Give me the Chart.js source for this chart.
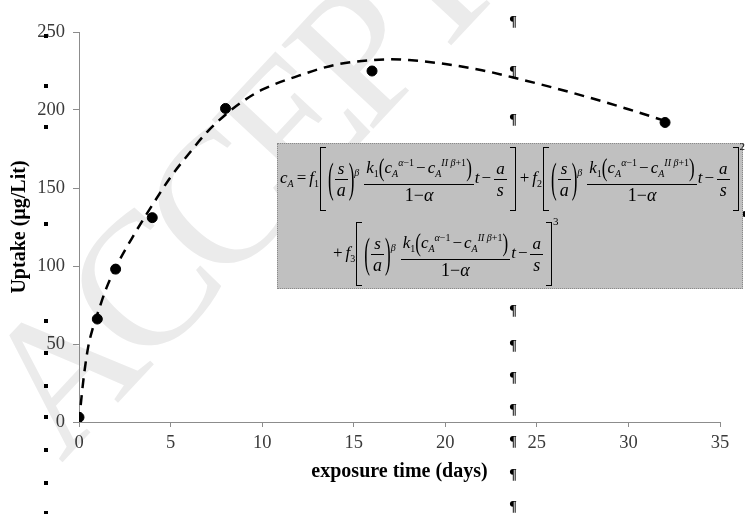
<!DOCTYPE html>
<html>
<head>
<meta charset="utf-8">
<script src="https://cdn.jsdelivr.net/npm/chart.js@4/dist/chart.umd.min.js"></script>
<style>
  html, body { margin: 0; padding: 0; background: #fff; }
  #wrap { position: relative; width: 745px; height: 514px; overflow: hidden; }
  #mark { position: absolute; left: -55px; top: 355px; font-family: "Liberation Serif", serif; font-size: 190px;
          color: #ebebeb; transform: rotate(-47deg); transform-origin: 0 0; white-space: nowrap; letter-spacing: -14px; line-height: 1; }
  #chart { position: absolute; left: 0; top: 0; }
  #eq { position: absolute; left: 277px; top: 143px; width: 464px; height: 144px; background: #c0c0c0;
        border: 1px dotted #8a8a8a; font-family: "Liberation Serif", serif; font-size: 17px; color: #000; }
  #eq .ln { position: absolute; white-space: nowrap; }
  #eq i { font-style: italic; }
  .op { margin: 0 3px; }
  .mi { margin: 0 2px; }
  .fr { display: inline-block; vertical-align: middle; text-align: center; margin: 0 1px; }
  .fr > span { display: block; line-height: 21px; padding: 0 2px; }
  .fr > span + span { border-top: 1.3px solid #000; font-size: 18px; }
  .sq { display: inline-block; position: relative; vertical-align: middle; padding: 5px 9px; }
  .sq::before, .sq::after { content: ''; position: absolute; top: 0; bottom: 0; width: 5px; border: 1.4px solid #000; }
  .sq::before { left: 1px; border-right: none; }
  .sq::after { right: 1px; border-left: none; }
  .pa { display: inline-block; vertical-align: middle; transform: scaleY(2.5); font-size: 17px; }
  .bp { display: inline-block; transform: scaleY(1.5); }
  .be { margin-right: 4px; }
  .pw { position: relative; top: -33px; font-size: 11px; }
  sup, sub { font-size: 10px; }
</style>
</head>
<body>
<div id="wrap">
  <div id="mark">ACCEPTED</div>
  <canvas id="chart" width="745" height="514"></canvas>
  <div id="eq">
    <div class="ln" style="left:2px; top:3px;">
      <i>c</i><sub><i>A</i></sub><span class="op">=</span><i>f</i><sub>1</sub><span class="sq"><span class="pa">(</span><span class="fr"><span><i>s</i></span><span><i>a</i></span></span><span class="pa">)</span><sup class="be"><i>β</i></sup><span class="fr"><span><i>k</i><sub>1</sub><span class="bp">(</span><i>c</i><sub><i>A</i></sub><sup><i>α</i>−1</sup><span class="mi">−</span><i>c</i><sub><i>A</i></sub><sup><i>II</i> <i>β</i>+1</sup><span class="bp">)</span></span><span>1−<i>α</i></span></span><i>t</i><span class="mi">−</span><span class="fr"><span><i>a</i></span><span><i>s</i></span></span></span><span class="op">+</span><i>f</i><sub>2</sub><span class="sq"><span class="pa">(</span><span class="fr"><span><i>s</i></span><span><i>a</i></span></span><span class="pa">)</span><sup class="be"><i>β</i></sup><span class="fr"><span><i>k</i><sub>1</sub><span class="bp">(</span><i>c</i><sub><i>A</i></sub><sup><i>α</i>−1</sup><span class="mi">−</span><i>c</i><sub><i>A</i></sub><sup><i>II</i> <i>β</i>+1</sup><span class="bp">)</span></span><span>1−<i>α</i></span></span><i>t</i><span class="mi">−</span><span class="fr"><span><i>a</i></span><span><i>s</i></span></span></span><span class="pw">2</span>
    </div>
    <div class="ln" style="left:52px; top:78px;">
      <span class="op">+</span><i>f</i><sub>3</sub><span class="sq"><span class="pa">(</span><span class="fr"><span><i>s</i></span><span><i>a</i></span></span><span class="pa">)</span><sup class="be"><i>β</i></sup><span class="fr"><span><i>k</i><sub>1</sub><span class="bp">(</span><i>c</i><sub><i>A</i></sub><sup><i>α</i>−1</sup><span class="mi">−</span><i>c</i><sub><i>A</i></sub><sup><i>II</i> <i>β</i>+1</sup><span class="bp">)</span></span><span>1−<i>α</i></span></span><i>t</i><span class="mi">−</span><span class="fr"><span><i>a</i></span><span><i>s</i></span></span></span><span class="pw">3</span>
    </div>
  </div>
</div>
<script>
// measured points
const days = [0, 1, 2, 4, 8, 16, 32];
const uptake = [3, 66, 98, 131, 201, 225, 192];

// dashed fitted curve
const fitDays = [0, 0.25, 0.5, 0.75, 1, 1.5, 2, 3, 4, 5, 6, 7, 8, 9, 10, 12, 14, 16, 17, 18, 20, 22, 24, 26, 28, 30, 32];
const fitUptake = [0, 28, 48, 60, 69, 86, 99, 120, 139, 157, 172, 186, 197, 206, 213, 222, 229, 232, 232.5, 232, 229.5, 225.5, 220, 214, 207.5, 200.5, 193];

const xTicks = [0, 5, 10, 15, 20, 25, 30, 35];
const yTicks = [0, 50, 100, 150, 200, 250];

const pilcrowY = [22, 72, 120, 311, 346, 378, 410, 442, 475, 507];
const squareY = [36, 86, 127, 224, 321, 353, 386, 417, 450, 483, 513];

const marksPlugin = {
  id: 'marks',
  afterDraw(chart) {
    const ctx = chart.ctx;
    ctx.save();
    ctx.fillStyle = '#000';
    ctx.font = 'bold 14px "Liberation Serif"';
    ctx.textAlign = 'center';
    ctx.textBaseline = 'middle';
    pilcrowY.forEach(y => ctx.fillText('¶', 513, y));
    squareY.forEach(y => ctx.fillRect(44, y - 2, 4, 4));
    ctx.beginPath();
    ctx.arc(745, 214, 3, 0, Math.PI * 2);
    ctx.fill();
    ctx.restore();
  }
};

const serif = '"Liberation Serif", "Times New Roman", serif';

new Chart(document.getElementById('chart'), {
  data: {
    datasets: [
      {
        type: 'line',
        data: fitDays.map((d, i) => ({ x: d, y: fitUptake[i] })),
        borderColor: '#000',
        borderWidth: 2.5,
        borderDash: [10, 7],
        pointRadius: 0,
        cubicInterpolationMode: 'monotone',
        fill: false
      },
      {
        type: 'scatter',
        data: days.map((d, i) => ({ x: d, y: uptake[i] })),
        backgroundColor: '#000',
        borderColor: '#000',
        pointRadius: 5
      }
    ]
  },
  plugins: [marksPlugin],
  options: {
    responsive: false,
    animation: false,
    layout: { padding: { left: 0, right: 25, top: 32, bottom: 30 } },
    plugins: { legend: { display: false }, tooltip: { enabled: false } },
    scales: {
      x: {
        type: 'linear', min: 0, max: 35,
        afterBuildTicks: s => { s.ticks = xTicks.map(v => ({ value: v })); },
        afterFit: s => { s.height = 62; },
        ticks: { color: '#3a3a3a', font: { family: serif, size: 18.5 }, padding: 5 },
        grid: { drawOnChartArea: false, tickLength: 5, color: '#8c8c8c' },
        border: { color: '#8c8c8c' },
        title: { display: true, text: 'exposure time (days)', color: '#000', font: { family: serif, size: 20, weight: 'bold' }, padding: 0 }
      },
      y: {
        min: 0, max: 250,
        afterBuildTicks: s => { s.ticks = yTicks.map(v => ({ value: v })); },
        afterFit: s => { s.width = 79; },
        ticks: { color: '#3a3a3a', font: { family: serif, size: 18.5 }, padding: 8 },
        grid: { drawOnChartArea: false, tickLength: 6, color: '#8c8c8c' },
        border: { color: '#8c8c8c' },
        title: { display: true, text: 'Uptake (µg/Lit)', color: '#000', font: { family: serif, size: 20, weight: 'bold' }, padding: { top: 8, bottom: 0 } }
      }
    }
  }
});
</script>
</body>
</html>
